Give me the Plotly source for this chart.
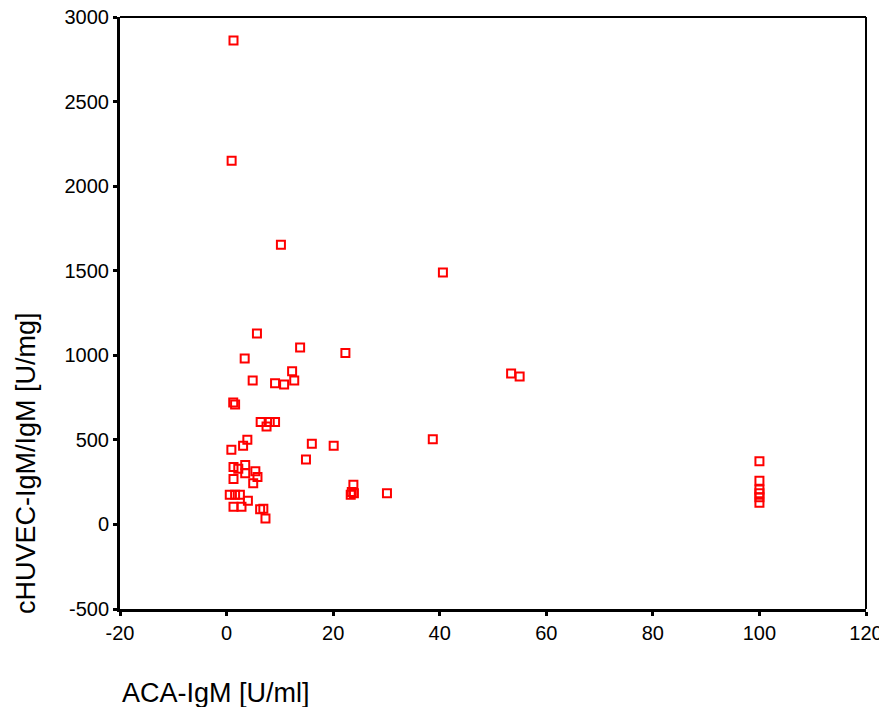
import plotly.graph_objects as go

aca_igm = [1.3, 0.95, 10.2, 40.6, 5.7, 13.8, 22.3, 3.4, 53.4, 55.0,
           12.3, 4.9, 12.7, 9.1, 10.8, 1.25, 1.6, 6.4, 8.1, 9.1,
           7.5, 3.9, 38.7, 3.1, 0.9, 16.0, 20.1, 14.9, 1.3, 2.2,
           3.5, 3.5, 5.4, 5.8, 1.3, 5.0, 0.6, 1.6, 2.5, 4.0,
           1.3, 2.8, 6.3, 6.9, 7.3, 23.8, 23.5, 23.9, 23.3, 30.1,
           100, 100, 100, 100, 100, 100]
chuvec_igm = [2861, 2150, 1654, 1490, 1129, 1046, 1013, 981, 893, 875,
              905, 851, 851, 834, 828, 721, 709, 605, 605, 605,
              579, 501, 503, 465, 442, 477, 465, 384, 339, 329,
              351, 303, 315, 280, 268, 244, 176, 176, 176, 140,
              105, 105, 89, 93, 35, 235, 191, 185, 176, 185,
              373, 258, 207, 185, 160, 128]

x_ticks = [-20, 0, 20, 40, 60, 80, 100, 120]
x_labels = ["-20", "0", "20", "40", "60", "80", "100", "120"]
y_ticks = [-500, 0, 500, 1000, 1500, 2000, 2500, 3000]
y_labels = ["-500", "0", "500", "1000", "1500", "2000", "2500", "3000"]

fig = go.Figure()
fig.add_trace(go.Scatter(
    x=aca_igm, y=chuvec_igm, mode="markers",
    marker=dict(symbol="square-open", size=8, color="#ff0000",
                line=dict(width=2, color="#ff0000")),
    showlegend=False, cliponaxis=False))

tick_font = dict(family="Liberation Sans, Arial, sans-serif", size=20, color="black")

# page body has an 8px margin, so the figure is sized/positioned to compensate
fig.update_layout(
    width=879, height=699,
    margin=dict(l=112, r=21, t=9, b=98, autoexpand=False),
    plot_bgcolor="white", paper_bgcolor="white",
    font=dict(family="Liberation Sans, Arial, sans-serif", size=20, color="black"),
    xaxis=dict(range=[-20, 120], tickvals=x_ticks, ticktext=x_labels,
               tickfont=tick_font, automargin=False, ticklabeloverflow="allow",
               showgrid=False, zeroline=False,
               showline=True, linecolor="black", linewidth=3, mirror=False,
               ticks="outside", ticklen=4, tickwidth=3, tickcolor="black"),
    yaxis=dict(range=[-500, 3000], tickvals=y_ticks, ticktext=y_labels,
               tickfont=tick_font, automargin=False, ticklabeloverflow="allow",
               showgrid=False, zeroline=False,
               showline=True, linecolor="black", linewidth=3, mirror=False,
               ticks="outside", ticklen=4, tickwidth=3, tickcolor="black"),
    shapes=[
        dict(type="line", xref="paper", yref="paper", x0=0, x1=1, y0=1, y1=1,
             line=dict(color="black", width=2)),
        dict(type="line", xref="paper", yref="paper", x0=1, x1=1, y0=0, y1=1,
             line=dict(color="black", width=2)),
    ],
    annotations=[
        dict(text="ACA-IgM [U/ml]", xref="paper", yref="paper", x=0.0, y=-0.1415,
             xanchor="left", yanchor="middle", showarrow=False,
             font=dict(size=27)),
        dict(text="cHUVEC-IgM/IgM [U/mg]", xref="paper", yref="paper", x=-0.126, y=0.2466,
             xanchor="center", yanchor="middle", textangle=-90, showarrow=False,
             font=dict(size=27)),
    ],
)

fig.write_html("out.html")
